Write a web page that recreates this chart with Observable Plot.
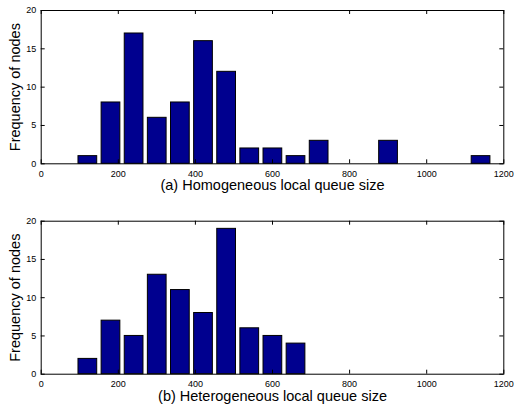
<!DOCTYPE html>
<html>
<head>
<meta charset="utf-8">
<script src="https://cdn.jsdelivr.net/npm/d3@7"></script>
<script src="https://cdn.jsdelivr.net/npm/@observablehq/plot@0.6"></script>
<style>
  html, body { margin: 0; padding: 0; background: #fff; }
  #chart { width: 516px; height: 408px; }
  #chart svg { display: block; }
</style>
</head>
<body>
<div id="chart"></div>
<script>
// ---- data ----
const binCenters = [121, 181, 241, 301, 361, 421, 481, 541, 601, 661, 721, 781, 841, 901, 961, 1021, 1081, 1141];
const homogeneousCounts   = [1, 8, 17, 6, 8, 16, 12, 2, 2, 1, 3, 0, 0, 3, 0, 0, 0, 1];
const heterogeneousCounts = [2, 7, 5, 13, 11, 8, 19, 6, 5, 4, 0, 0, 0, 0, 0, 0, 0, 0];
const binWidth = 60;
const xTicks = [0, 200, 400, 600, 800, 1000, 1200];
const yTicks = [0, 5, 10, 15, 20];
const yLabel = "Frequency of nodes";
const xLabelA = "(a) Homogeneous local queue size";
const xLabelB = "(b) Heterogeneous local queue size";

const BAR_FILL = "#00008f";
const FONT = "'Liberation Sans', Arial, Helvetica, sans-serif";

function panel(counts, xLabel, marginTop, marginBottom) {
  const data = binCenters.map((c, i) => ({c, n: counts[i]}));
  const H = 204;
  const innerH = H - marginTop - marginBottom;
  const innerW = 516 - 40.7 - 12.7;
  const tick = 4;
  return Plot.plot({
    width: 516,
    height: H,
    marginLeft: 40.7,
    marginRight: 12.7,
    marginTop,
    marginBottom,
    style: {fontFamily: FONT, fontSize: "9px", color: "#000", background: "#fff", overflow: "visible"},
    x: {domain: [0, 1200], ticks: xTicks, label: null},
    y: {domain: [0, 20], ticks: yTicks, label: null},
    marks: [
      Plot.rectY(data.filter(d => d.n > 0), {
        x1: d => d.c - binWidth / 2,
        x2: d => d.c + binWidth / 2,
        y: "n",
        insetLeft: 2.2,
        insetRight: 2.2,
        fill: BAR_FILL,
        stroke: "#000",
        strokeWidth: 1
      }),
      Plot.frame({stroke: "#000", strokeWidth: 1}),
      // inward ticks (bottom, top, left, right)
      Plot.gridX({ticks: xTicks, stroke: "#000", strokeOpacity: 1, insetTop: innerH - tick}),
      Plot.gridX({ticks: xTicks, stroke: "#000", strokeOpacity: 1, insetBottom: innerH - tick}),
      Plot.gridY({ticks: yTicks, stroke: "#000", strokeOpacity: 1, insetRight: innerW - tick}),
      Plot.gridY({ticks: yTicks, stroke: "#000", strokeOpacity: 1, insetLeft: innerW - tick}),
      Plot.axisX({ticks: xTicks, tickSize: 0, tickPadding: 6.5, label: null, fontSize: 9, tickFormat: d3.format("d")}),
      Plot.axisY({ticks: yTicks, tickSize: 0, tickPadding: 5, label: null, fontSize: 9, tickFormat: d3.format("d")}),
      Plot.text([xLabel], {frameAnchor: "bottom", lineAnchor: "middle", textAnchor: "middle", dy: 22, fontSize: 14.5, fill: "#000", text: d => d}),
      Plot.text([yLabel], {frameAnchor: "left", lineAnchor: "middle", textAnchor: "middle", dx: -26, rotate: -90, fontSize: 14.5, fill: "#000", text: d => d})
    ]
  });
}

const root = document.getElementById("chart");
root.append(panel(homogeneousCounts, xLabelA, 10, 40.7));
root.append(panel(heterogeneousCounts, xLabelB, 16.7, 34.3));
</script>
</body>
</html>
